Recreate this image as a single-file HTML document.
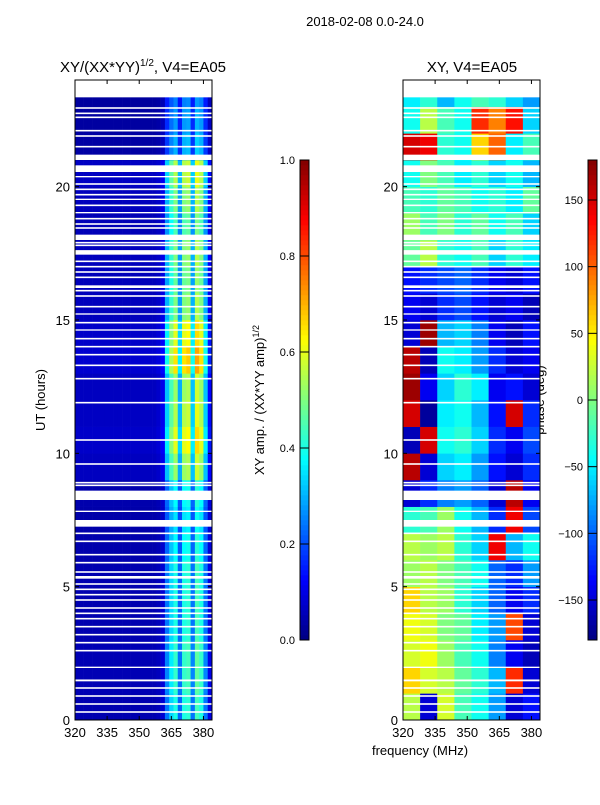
<!DOCTYPE html>
<html><head><meta charset="utf-8"><style>
body{margin:0;background:#fff;}
svg text{font-family:"Liberation Sans","DejaVu Sans",sans-serif;fill:#000;}
</style></head><body>
<svg id="fig" width="600" height="800" xmlns="http://www.w3.org/2000/svg">
<text x="365" y="26" font-size="13" text-anchor="middle">2018-02-08 0.0-24.0</text>
<text x="143" y="72" font-size="15" text-anchor="middle">XY/(XX*YY)<tspan font-size="10" dy="-6">1/2</tspan><tspan dy="6">, V4=EA05</tspan></text>
<text x="472" y="72" font-size="15" text-anchor="middle">XY, V4=EA05</text>
<text x="45" y="400" font-size="13" text-anchor="middle" transform="rotate(-90 45 400)">UT (hours)</text>
<text x="264" y="400" font-size="13" text-anchor="middle" transform="rotate(-90 264 400)">XY amp. / (XX*YY amp)<tspan font-size="9" dy="-5">1/2</tspan></text>
<text x="544" y="400" font-size="13" text-anchor="middle" transform="rotate(-90 544 400)">phase (deg)</text>
<text x="420" y="755" font-size="13" text-anchor="middle">frequency (MHz)</text>
<g id="left"></g>
<g id="right"></g>
<g id="cb"></g>
</svg>
<script>
// ---- data ----
const freqEdgesLeft = [320,322,324,326,328,330,332,334,336,338,340,342,344,346,348,350,352,354,356,358,360,362,364,366,368,370,372,374,376,378,380,382,384];
const ampByFreq = [0.06,0.06,0.06,0.06,0.06,0.06,0.06,0.06,0.06,0.06,0.06,0.06,0.06,0.06,0.06,0.06,0.06,0.06,0.06,0.07,0.1,0.3,0.42,0.5,0.28,0.5,0.52,0.3,0.55,0.5,0.3,0.12];
const ampHourScale = [0.8,0.85,0.85,0.8,0.8,0.8,0.75,0.7,0.75,1.05,1.2,1.1,1.05,1.3,1.2,1.0,0.95,1.0,0.9,1.0,1.1,0.6,0.55,0.5];
const phaseFreqEdges = [320,328,336,344,352,360,368,376,384];
const phaseGrid = [
 [20,-150,30,-20,-40,-80,-150,-130],
 [60,30,20,-10,-30,-70,120,-150],
 [30,40,10,-20,-40,-90,-140,-160],
 [40,30,0,-10,-50,-80,110,-150],
 [60,20,10,-30,-60,-100,-140,-120],
 [10,20,0,-20,-40,-100,-120,-80],
 [20,10,20,-30,-60,140,-70,-40],
 [-30,-20,10,-40,-70,-120,140,-110],
 [-150,-120,-90,-80,-100,-150,160,-140],
 [160,-150,-60,-50,-80,-130,-150,-120],
 [-160,150,-40,-30,-60,-120,-140,-110],
 [150,-170,-50,-40,-70,-130,150,-120],
 [170,-140,-60,-30,-50,-140,-130,-150],
 [160,-160,-40,-50,-80,-120,-150,-140],
 [-150,170,-70,-60,-90,-140,-160,-130],
 [-140,-150,-120,-110,-130,-150,-140,-160],
 [-130,-120,-110,-100,-120,-140,-150,-130],
 [-10,20,-30,-40,-20,-60,-30,-50],
 [10,-20,0,-30,-10,-40,-20,-60],
 [-20,-30,-10,-20,-40,-30,-50,-10],
 [-40,0,-20,-50,-30,-60,-40,-70],
 [150,140,-30,-40,60,100,-50,-20],
 [-40,20,-20,-40,120,90,130,-60],
 [-50,-30,-70,-40,-20,-30,-60,-80]
];
const blankBands = [[23.35,24],[21.0,21.2],[20.55,20.8],[18.0,18.2],[17.45,17.62],[8.25,8.6],[7.25,7.5],[1.45,1.52],[5.3,5.4],[20.35,20.4],[19.5,19.55],[19.0,19.05],[16.2,16.3],[15.2,15.25],[14.6,14.65],[7.8,7.85],[1.95,2.0]];
const thinLines = [22.95,22.75,22.6,22.1,21.9,21.5,20.1,19.9,19.7,19.3,18.8,18.6,18.45,17.9,17.8,17.2,17.0,16.8,16.6,16.1,15.9,15.5,14.9,14.3,14.0,13.7,13.3,12.8,11.9,10.5,9.6,8.9,8.8,7.0,6.7,6.2,5.9,5.55,5.1,4.9,4.7,4.5,4.2,4.0,3.8,3.5,3.2,2.9,2.6,1.2,0.9,0.6,0.3];
const xTicks = [320,335,350,365,380];
const yTicks = [0,5,10,15,20];
const ampTicks = [0.0,0.2,0.4,0.6,0.8,1.0];
const phaseTicks = [-150,-100,-50,0,50,100,150];
// ---- helpers ----
const NS="http://www.w3.org/2000/svg";
function jet(v){v=Math.max(0,Math.min(1,v));
 const r=Math.max(0,Math.min(1,1.5-Math.abs(4*v-3))),g=Math.max(0,Math.min(1,1.5-Math.abs(4*v-2))),b=Math.max(0,Math.min(1,1.5-Math.abs(4*v-1)));
 return `rgb(${Math.round(r*255)},${Math.round(g*255)},${Math.round(b*255)})`;}
function mk(tag,attrs,parent){const e=document.createElementNS(NS,tag);for(const k in attrs)e.setAttribute(k,attrs[k]);parent.appendChild(e);return e;}
const Y0=720,Y1=80;
const yS=h=>Y0-(Y0-Y1)*h/24;
function panel(g,x0,x1){ return f=>x0+(x1-x0)*(f-320)/64; }
function axes(g,x0,x1,xS){
 blankBands.forEach(b=>{const r=mk('rect',{x:x0,y:yS(b[1]),width:x1-x0,height:yS(b[0])-yS(b[1]),fill:'#fff'},g);
  
  });
 thinLines.forEach(h=>{const r=mk('rect',{x:x0,y:yS(h)-0.8,width:x1-x0,height:1.6,fill:'#fff'},g);
  
  });
 const fr=mk('rect',{x:x0,y:Y1,width:x1-x0,height:Y0-Y1,fill:'none',stroke:'#000','stroke-width':1},g);
 
 
 xTicks.forEach(t=>{const x=xS(t);
  mk('line',{x1:x,x2:x,y1:Y0,y2:Y0-4,stroke:'#000'},g);mk('line',{x1:x,x2:x,y1:Y1,y2:Y1+4,stroke:'#000'},g);
  const tx=mk('text',{x:x,y:Y0+17,'font-size':13,'text-anchor':'middle'},g);tx.textContent=t;
  
  });
 yTicks.forEach(t=>{const y=yS(t);
  mk('line',{x1:x0,x2:x0+4,y1:y,y2:y,stroke:'#000'},g);mk('line',{x1:x1,x2:x1-4,y1:y,y2:y,stroke:'#000'},g);
  const tx=mk('text',{x:x0-5,y:y+5,'font-size':13,'text-anchor':'end'},g);tx.textContent=t;
  
  });
}
const L=document.getElementById('left');const lx0=75,lx1=212;const xL=panel(L,lx0,lx1);
for(let h=0;h<24;h++){for(let c=0;c<ampByFreq.length;c++){
 const v=Math.min(1,ampByFreq[c]*ampHourScale[h]);
 const r=mk('rect',{x:xL(freqEdgesLeft[c]),y:yS(h+1),width:xL(freqEdgesLeft[c+1])-xL(freqEdgesLeft[c])+0.3,height:yS(h)-yS(h+1)+0.3,fill:jet(v)},L);
 
 }}
axes(L,lx0,lx1,xL);
const R=document.getElementById('right');const rx0=403,rx1=540;const xR=panel(R,rx0,rx1);
for(let h=0;h<24;h++){for(let c=0;c<8;c++){
 const v=(phaseGrid[h][c]+180)/360;
 const r=mk('rect',{x:xR(phaseFreqEdges[c]),y:yS(h+1),width:xR(phaseFreqEdges[c+1])-xR(phaseFreqEdges[c])+0.3,height:yS(h)-yS(h+1)+0.3,fill:jet(v)},R);
 
 }}
axes(R,rx0,rx1,xR);
const CB=document.getElementById('cb');
function colorbar(x,ticks,lo,hi,fmt,name){
 const y0=640,y1=160;
 for(let i=0;i<96;i++){mk('rect',{x:x,y:y0-(i+1)*5,width:9,height:5.3,fill:jet((i+0.5)/96)},CB);}
 const f=mk('rect',{x:x,y:y1,width:9,height:y0-y1,fill:'none',stroke:'#000'},CB);
 
 
 ticks.forEach(t=>{const y=y0-(y0-y1)*(t-lo)/(hi-lo);
  mk('line',{x1:x,x2:x+9,y1:y,y2:y,stroke:'#000'},CB);
  const tx=mk('text',{x:x-5,y:y+4,'font-size':11,'text-anchor':'end'},CB);tx.textContent=fmt(t);
  
  });
}
colorbar(300,ampTicks,0,1,t=>t.toFixed(1),'amplitude-colorbar');
colorbar(588,phaseTicks,-180,180,t=>t<0?'\u2212'+(-t):String(t),'phase-colorbar');
</script>
</body></html>
